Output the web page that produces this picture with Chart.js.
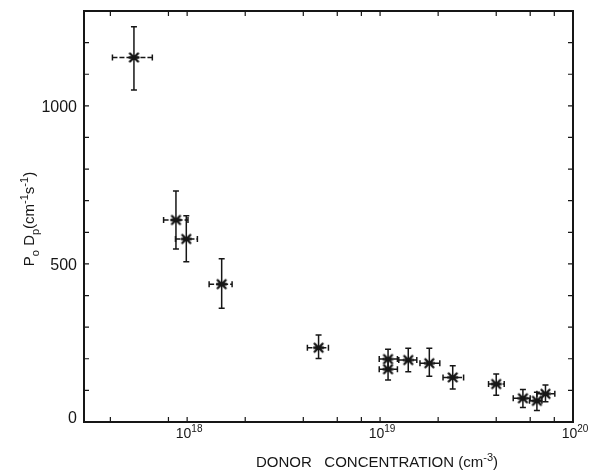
<!DOCTYPE html>
<html>
<head>
<meta charset="utf-8">
<script src="https://cdn.jsdelivr.net/npm/chart.js@4.4.1/dist/chart.umd.min.js"></script>
<style>
  html, body { margin: 0; padding: 0; background: #fff; }
  #wrap { width: 607px; height: 471px; }
</style>
</head>
<body>
<div id="wrap"><canvas id="pdChart" width="607" height="471"></canvas></div>
<script>
// donor concentration (cm^-3), centre and horizontal error range
const donor     = [5.3e17, 8.75e17, 9.9e17, 1.51e18, 4.8e18, 1.1e19, 1.1e19, 1.4e19, 1.8e19, 2.38e19, 4.0e19, 5.5e19, 6.5e19, 7.2e19];
const donorLow  = [4.1e17, 7.55e17, 8.7e17, 1.3e18, 4.2e18, 9.9e18, 9.9e18, 1.25e19, 1.61e19, 2.12e19, 3.65e19, 4.9e19, 5.95e19, 6.5e19];
const donorHigh = [6.6e17, 1.01e18, 1.13e18, 1.71e18, 5.4e18, 1.23e19, 1.23e19, 1.55e19, 2.04e19, 2.71e19, 4.4e19, 6.0e19, 6.9e19, 8.05e19];

// Po*Dp (cm^-1 s^-1), centre and vertical error range
const pdValue = [1153, 639, 579, 436, 235, 199, 167, 196, 186, 141, 120, 75, 67, 89];
const pdLow   = [1050, 547, 507, 360, 201, 168, 133, 159, 145, 104, 85, 46, 36, 64];
const pdHigh  = [1250, 731, 652, 516, 275, 230, 200, 233, 233, 178, 152, 103, 94, 117];

// axis ticks
const xTickValues = [4e17, 8e17, 1e18, 2e18, 4e18, 6e18, 8e18, 1e19, 2e19, 4e19, 6e19, 8e19, 1e20];
const xDecades = [18, 19, 20];
const yTickLabels = [0, 500, 1000];

const INK = '#161616';
const FONT = "'Liberation Sans', Arial, sans-serif";

// bold asterisk marker
function makeMarker() {
    const c = document.createElement('canvas');
    c.width = 13; c.height = 13;
    const g = c.getContext('2d');
    g.translate(6.5, 6.5);
    g.strokeStyle = INK;
    g.lineCap = 'round';
    g.lineWidth = 2.4;
    g.beginPath();
    g.moveTo(-4, -4); g.lineTo(4, 4);
    g.moveTo(-4, 4); g.lineTo(4, -4);
    g.moveTo(-4.5, 0); g.lineTo(4.5, 0);
    g.stroke();
    g.fillStyle = INK;
    g.beginPath(); g.arc(0, 0, 2.2, 0, Math.PI * 2); g.fill();
    return c;
}

// text runs with sub/superscripts: [text, 'sup'|'sub'|undefined]
function richWidth(ctx, runs, size) {
    let w = 0;
    runs.forEach(([t, k]) => {
        ctx.font = `${k ? Math.round(size * 0.72) : size}px ${FONT}`;
        w += ctx.measureText(t).width;
    });
    return w;
}
function drawRich(ctx, runs, x, y, size) {
    runs.forEach(([t, k]) => {
        const s = k ? Math.round(size * 0.72) : size;
        const dy = k === 'sup' ? -size * 0.42 : k === 'sub' ? size * 0.3 : 0;
        ctx.font = `${s}px ${FONT}`;
        ctx.fillText(t, x, y + dy);
        x += ctx.measureText(t).width;
    });
}

// error bars: dashed horizontal, solid vertical, both with small caps
const errorBars = {
    id: 'errorBars',
    beforeDatasetsDraw(chart) {
        const { ctx, scales: { x, y } } = chart;
        const cap = 3;
        ctx.save();
        ctx.strokeStyle = INK;
        ctx.lineWidth = 1.5;
        donor.forEach((d, i) => {
            const px = x.getPixelForValue(d), py = y.getPixelForValue(pdValue[i]);
            const xl = x.getPixelForValue(donorLow[i]), xr = x.getPixelForValue(donorHigh[i]);
            const yt = y.getPixelForValue(pdHigh[i]), yb = y.getPixelForValue(pdLow[i]);
            ctx.setLineDash([]);
            ctx.beginPath();
            ctx.moveTo(px, yt); ctx.lineTo(px, yb);
            ctx.moveTo(px - cap, yt); ctx.lineTo(px + cap, yt);
            ctx.moveTo(px - cap, yb); ctx.lineTo(px + cap, yb);
            ctx.moveTo(xl, py - cap); ctx.lineTo(xl, py + cap);
            ctx.moveTo(xr, py - cap); ctx.lineTo(xr, py + cap);
            ctx.stroke();
            ctx.setLineDash([5, 2]);
            ctx.beginPath();
            ctx.moveTo(xl, py); ctx.lineTo(xr, py);
            ctx.stroke();
        });
        ctx.restore();
    }
};

// box with inward ticks on all sides, tick labels and axis titles
const frame = {
    id: 'frame',
    afterDraw(chart) {
        const { ctx, chartArea: a, scales: { x, y } } = chart;
        const len = 5;
        ctx.save();
        ctx.strokeStyle = INK;
        ctx.lineWidth = 1.2;
        ctx.beginPath();
        xTickValues.forEach(v => {
            const px = x.getPixelForValue(v);
            ctx.moveTo(px, a.bottom); ctx.lineTo(px, a.bottom - len);
            ctx.moveTo(px, a.top); ctx.lineTo(px, a.top + len);
        });
        y.ticks.forEach(t => {
            const py = y.getPixelForValue(t.value);
            ctx.moveTo(a.left, py); ctx.lineTo(a.left + len, py);
            ctx.moveTo(a.right, py); ctx.lineTo(a.right - len, py);
        });
        ctx.stroke();
        ctx.lineWidth = 2;
        ctx.strokeRect(a.left, a.top, a.right - a.left, a.bottom - a.top);

        ctx.fillStyle = INK;
        ctx.textBaseline = 'alphabetic';

        // y tick labels
        ctx.textAlign = 'right';
        ctx.font = `16px ${FONT}`;
        yTickLabels.forEach(v => {
            const py = y.getPixelForValue(v) + (v === 0 ? -5 : 0);
            ctx.fillText(String(v), a.left - 7, py + 6);
        });

        // x tick labels 10^n
        ctx.textAlign = 'left';
        xDecades.forEach(n => {
            const runs = [['10'], [String(n), 'sup']];
            const w = richWidth(ctx, runs, 14);
            drawRich(ctx, runs, x.getPixelForValue(Math.pow(10, n)) - w / 2 + 2, a.bottom + 16, 14);
        });

        // x title
        const xt = [['DONOR   CONCENTRATION (cm'], ['-3', 'sup'], [')']];
        drawRich(ctx, xt, 256, a.bottom + 45, 15);

        // y title, rotated
        const yt = [['P'], ['o', 'sub'], [' D'], ['p', 'sub'], ['(cm'], ['-1', 'sup'], ['s'], ['-1', 'sup'], [')']];
        const yw = richWidth(ctx, yt, 15);
        ctx.translate(34, 219);
        ctx.rotate(-Math.PI / 2);
        drawRich(ctx, yt, -yw / 2, 0, 15);
        ctx.restore();
    }
};

const ctx = document.getElementById('pdChart').getContext('2d');
new Chart(ctx, {
    type: 'scatter',
    data: {
        datasets: [{
            data: donor.map((d, i) => ({ x: d, y: pdValue[i] })),
            pointStyle: makeMarker(),
            radius: 6
        }]
    },
    options: {
        responsive: false,
        animation: false,
        layout: { padding: { top: 11, right: 34, left: 0, bottom: 0 } },
        plugins: { legend: { display: false }, tooltip: { enabled: false } },
        scales: {
            x: {
                type: 'logarithmic',
                min: 2.92e17,
                max: 1e20,
                grid: { display: false, drawTicks: false },
                border: { display: false },
                ticks: { display: false },
                afterBuildTicks: scale => { scale.ticks = xTickValues.map(v => ({ value: v })); },
                afterFit: scale => { scale.height = 49; }
            },
            y: {
                min: 0,
                max: 1300,
                grid: { display: false, drawTicks: false },
                border: { display: false },
                ticks: { display: false, stepSize: 100 },
                afterFit: scale => { scale.width = 84; }
            }
        }
    },
    plugins: [errorBars, frame]
});
</script>
</body>
</html>
